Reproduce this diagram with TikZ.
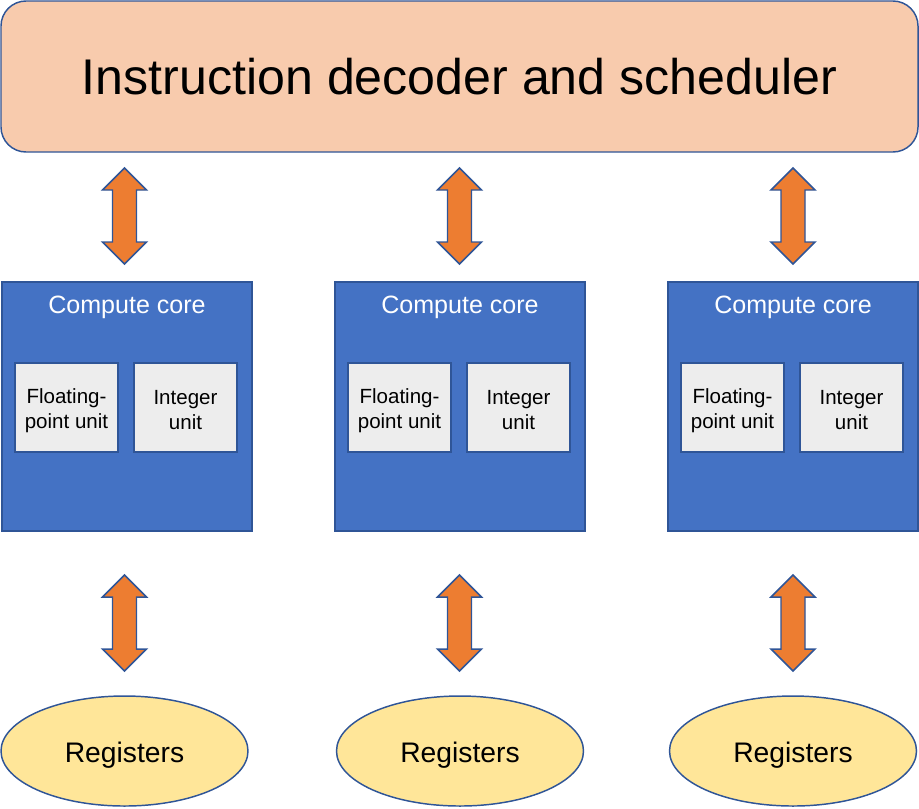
\documentclass[tikz,border=0pt]{standalone}
\usepackage{fontspec}
\setmainfont{Liberation Sans}
\usetikzlibrary{shapes.geometric}
\definecolor{peach}{HTML}{F8CBAD}
\definecolor{coreblue}{HTML}{4472C4}
\definecolor{edge}{HTML}{2F5597}
\definecolor{unitgray}{HTML}{EDEDED}
\definecolor{regyellow}{HTML}{FFE699}
\definecolor{arroworange}{HTML}{ED7D31}
\begin{document}
\begin{tikzpicture}[x=0.75pt,y=-0.75pt,
  every node/.style={outer sep=0pt, inner sep=0pt},
  topbox/.style={draw=edge, line width=1.1pt, fill=peach, rounded corners=18.75pt,
    minimum width=917*0.75pt, minimum height=151*0.75pt},
  toptext/.style={font=\fontsize{37.6pt}{44pt}\selectfont},
  corebox/.style={draw=edge, line width=1.1pt, fill=coreblue,
    minimum width=250*0.75pt, minimum height=249*0.75pt},
  coretitle/.style={text=white, anchor=base, font=\fontsize{18.8pt}{22pt}\selectfont},
  unitbox/.style={draw=edge, line width=1.1pt, fill=unitgray,
    minimum width=103*0.75pt, minimum height=89*0.75pt},
  unittext/.style={align=center, font=\fontsize{15.4pt}{18.75pt}\selectfont},
  regnode/.style={ellipse, draw=edge, line width=1.1pt, fill=regyellow,
    minimum width=247*0.75pt, minimum height=110*0.75pt},
  regtext/.style={anchor=base, font=\fontsize{21.2pt}{24pt}\selectfont},
  blockarrow/.style={draw=edge, line width=1.1pt, fill=arroworange, line join=miter}
]
\useasboundingbox (0,0) rectangle (919,808);

\node[topbox] (sched) at (459.5,76.5) {};
\node[toptext, anchor=base] (schedtext) at (459.5,94) {Instruction decoder and scheduler};

\foreach \i/\cx/\ax/\rx in {1/127/124.5/124.5, 2/460/459.5/460, 3/793/793/793}{
  \node[corebox] (core\i) at (\cx,406.5) {};
  \node[coretitle] (title\i) at (\cx,313) {Compute core};
  \node[unitbox] (fpu\i) at (\cx-60.5,407.5) {};
  \node[unittext] (fputext\i) at (\cx-60.5,410.5) {Floating-\\point unit};
  \node[unitbox] (int\i) at (\cx+58.5,407.5) {};
  \node[unittext] (inttext\i) at (\cx+58.5,410.5) {Integer\\unit};
  \node[regnode] (reg\i) at (\rx,751) {};
  \node[regtext] (regtext\i) at (\rx,762) {Registers};
  % block arrows between scheduler and core, core and registers
  \foreach \ya/\yb in {168/264, 575/671}{
    \draw[blockarrow] (\ax,\ya) -- (\ax+22,\ya+22) -- (\ax+12,\ya+22)
      -- (\ax+12,\yb-22) -- (\ax+22,\yb-22) -- (\ax,\yb) -- (\ax-22,\yb-22)
      -- (\ax-12,\yb-22) -- (\ax-12,\ya+22) -- (\ax-22,\ya+22) -- cycle;
  }
}
\end{tikzpicture}
\end{document}
